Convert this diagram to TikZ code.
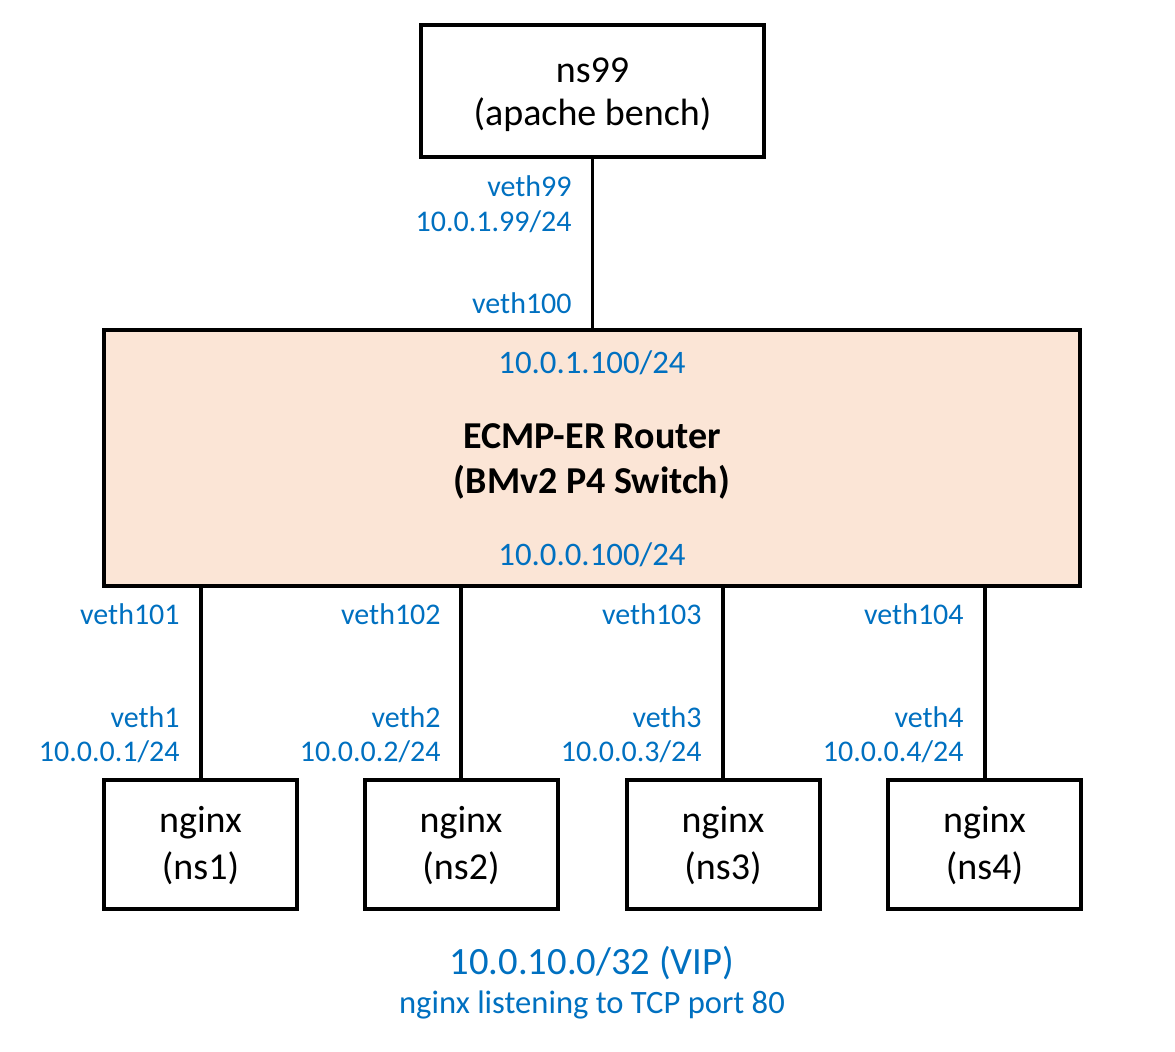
\documentclass[tikz,border=0pt]{standalone}
\usepackage{fontspec}
\setmainfont{Carlito}
\definecolor{lblue}{HTML}{0070C0}
\definecolor{rfill}{HTML}{FBE5D6}
\tikzset{
  box/.style={draw=black, line width=2pt, inner sep=0pt},
  link/.style={draw=black, line width=1.6pt},
  lbl/.style={text=lblue, font=\fontsize{15}{18}\selectfont, inner sep=0pt, anchor=east},
  boxtxt/.style={font=\fontsize{19}{23}\selectfont, inner sep=0pt},
}
\begin{document}
\begin{tikzpicture}[x=0.5pt, y=-0.5pt]
\useasboundingbox (0,0) rectangle (1175,1052);
% boxes
\node[box, minimum width=171.5pt, minimum height=66pt] (ns99) at (592.5,91) {};
\node[boxtxt] (ns99a) at (592.5,70) {ns99};
\node[boxtxt] (ns99b) at (592.5,115) {(apache bench)};

\node[box, fill=rfill, minimum width=488pt, minimum height=128pt] (rtr) at (592,458) {};
\node[text=lblue, font=\fontsize{16.4}{19}\selectfont, inner sep=0pt] (ip1) at (592,363) {10.0.1.100/24};
\node[boxtxt, font=\bfseries\fontsize{19}{23}\selectfont] (r1) at (592,436) {ECMP-ER Router};
\node[boxtxt, font=\bfseries\fontsize{19}{23}\selectfont] (r2) at (592,482) {(BMv2 P4 Switch)};
\node[text=lblue, font=\fontsize{16.4}{19}\selectfont, inner sep=0pt] (ip0) at (592,555) {10.0.0.100/24};

\foreach \i/\cx in {1/200.5,2/461,3/723,4/984.5}{
  \node[box, minimum width=96.5pt, minimum height=64.5pt] (n\i) at (\cx,844.5) {};
  \node[boxtxt] (n\i a) at (\cx,823) {nginx};
  \node[boxtxt] (n\i b) at (\cx,868) {(ns\i)};
}

% links
\draw[link] (ns99.south) -- (ns99.south |- rtr.north);
\foreach \i/\cx in {1/201,2/461,3/723,4/985}{
  \coordinate (t\i) at (\cx,586);
  \coordinate (b\i) at (\cx,780);
  \draw[link] (t\i) -- (b\i);
}

% labels
\node[lbl] (l99) at (572,186) {veth99};
\node[lbl] (l99ip) at (572,222) {10.0.1.99/24};
\node[lbl] (l100) at (572,303) {veth100};

\foreach \i/\rx in {1/180,2/441,3/702,4/964}{
  \node[lbl] (v10\i) at (\rx,614) {veth10\i};
  \node[lbl] (v\i) at (\rx,717) {veth\i};
  \node[lbl] (ip\i) at (\rx,752) {10.0.0.\i/24};
}

\node[text=lblue, font=\fontsize{19.3}{23}\selectfont, inner sep=0pt] (vip) at (592,963) {10.0.10.0/32 (VIP)};
\node[text=lblue, font=\fontsize{16.3}{19}\selectfont, inner sep=0pt] (lst) at (592,1005) {nginx listening to TCP port 80};
\end{tikzpicture}
\end{document}
